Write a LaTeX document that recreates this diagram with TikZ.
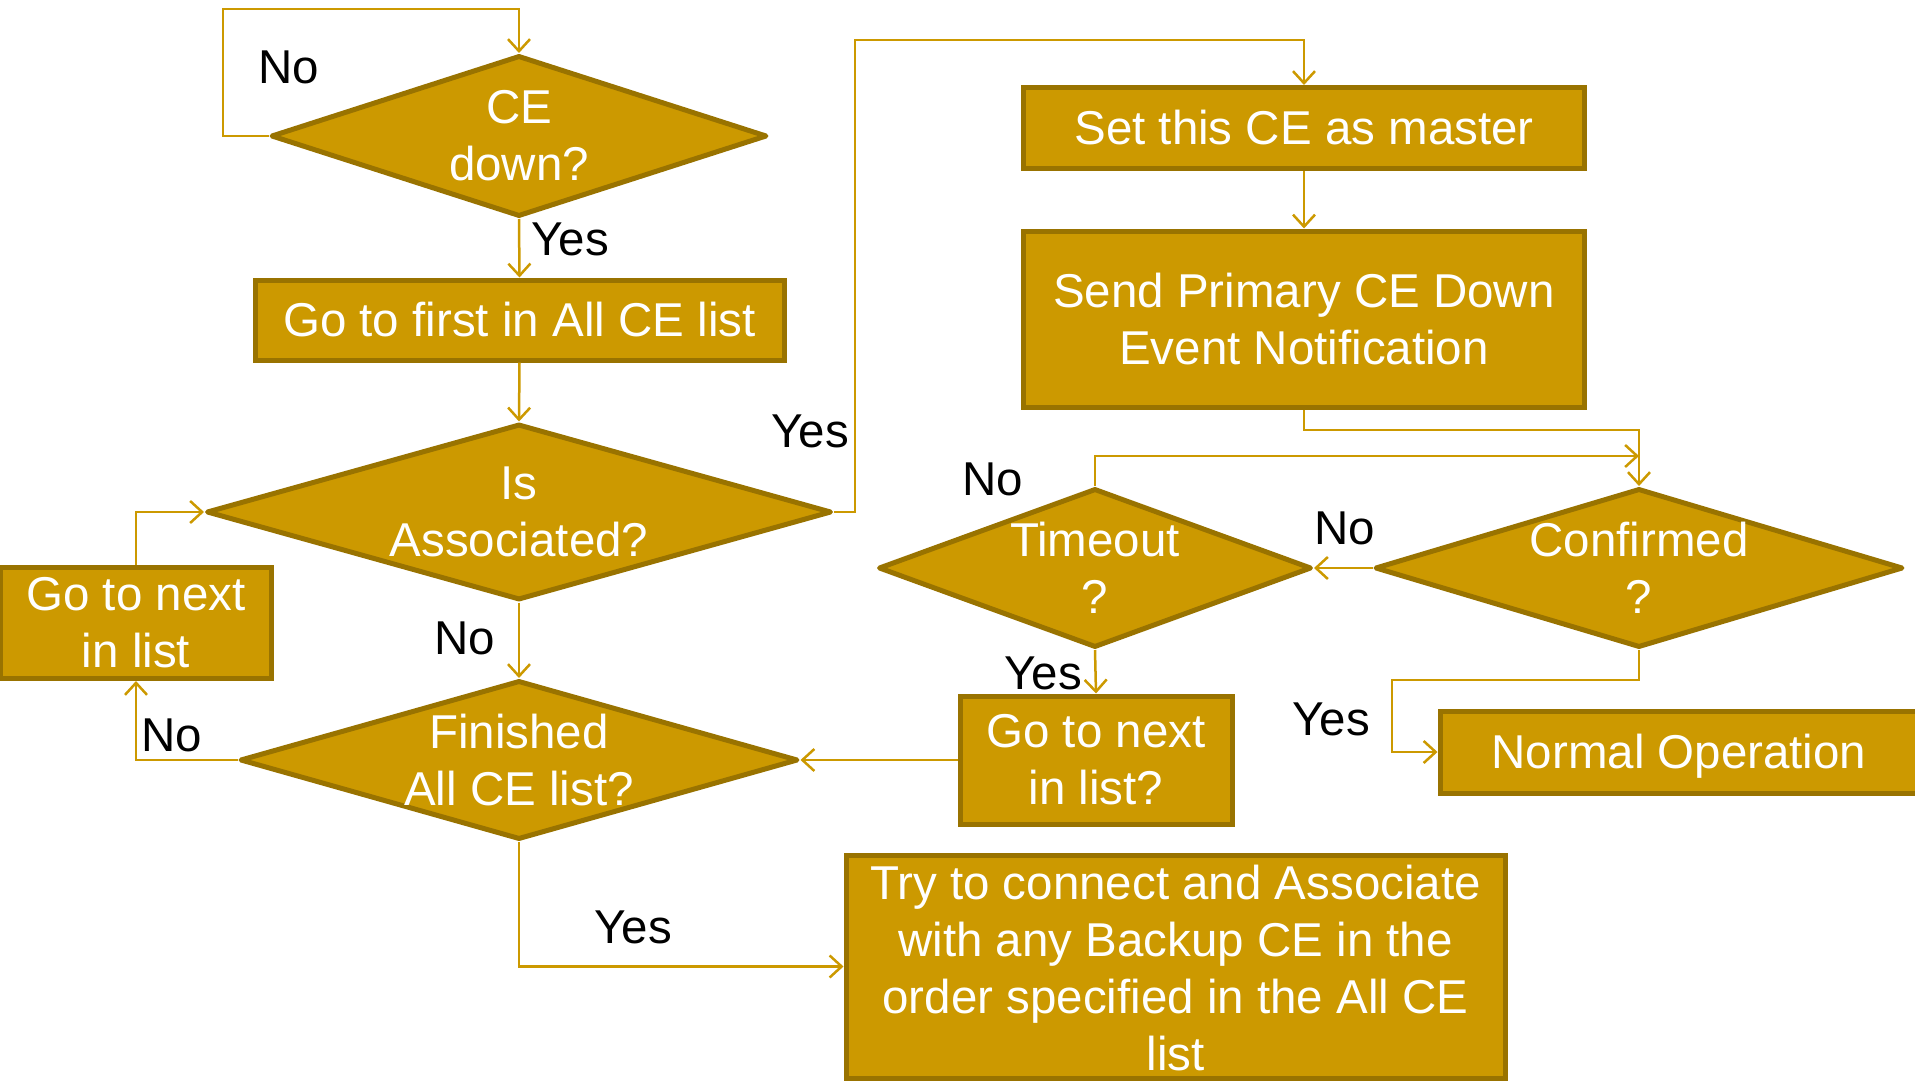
\documentclass[tikz,border=0pt]{standalone}
\usepackage{fontspec}
\setmainfont{Liberation Sans}
\usetikzlibrary{shapes.geometric,arrows.meta}
\definecolor{gold}{HTML}{CC9900}
\definecolor{golddark}{HTML}{997300}
\begin{document}
\begin{tikzpicture}[x=1pt,y=-1pt,
  font=\fontsize{47.5}{57}\selectfont,
  box/.style={draw=golddark,fill=gold,line width=5pt,text=white,align=center,inner sep=0pt},
  dia/.style={diamond,draw=golddark,fill=gold,line width=5pt,inner sep=0pt,line join=round},
  dtxt/.style={text=white,align=center,inner sep=0pt},
  arr/.style={draw=gold,line width=2.5pt,-{Straight Barb[length=12pt,width=22pt,line width=2.5pt]}},
  lbl/.style={text=black,inner sep=0pt}]
\useasboundingbox (0,0) rectangle (1915,1081);
% diamonds
\node[dia,minimum width=496pt,minimum height=161pt,label={[dtxt]center:CE\\down?}] (ce) at (519,136) {};
\node[dia,minimum width=625pt,minimum height=176pt,label={[dtxt]center:Is\\Associated?}] (assoc) at (519,512) {};
\node[dia,minimum width=558pt,minimum height=159pt,label={[dtxt]center:Finished\\All CE list?}] (fin) at (519,760) {};
\node[dia,minimum width=433pt,minimum height=159pt,label={[dtxt]center:Timeout\\?}] (tmo) at (1095,568) {};
\node[dia,minimum width=528pt,minimum height=159pt,label={[dtxt]center:Confirmed\\?}] (conf) at (1639,568) {};
% boxes
\node[box,minimum width=529pt,minimum height=80pt] (first) at (519.5,320) {Go to first in All CE list};
\node[box,minimum width=271pt,minimum height=111pt] (nextl) at (136,623) {Go to next\\in list};
\node[box,minimum width=561pt,minimum height=81pt] (master) at (1304,128) {Set this CE as master};
\node[box,minimum width=561pt,minimum height=176pt] (send) at (1304,319) {Send Primary CE Down\\Event Notification};
\node[box,minimum width=272pt,minimum height=128pt] (nextq) at (1096,760) {Go to next\\in list?};
\node[box,minimum width=478pt,minimum height=82pt,label={[dtxt,yshift=-4pt]center:Normal Operation}] (normal) at (1679,752) {};
\node[box,minimum width=659pt,minimum height=223pt,label={[dtxt,yshift=-2pt]center:Try to connect and Associate\\with any Backup CE in the\\order specified in the All CE\\list}] (try) at (1175.5,966.5) {};
% helper coordinates
\coordinate (c1) at (223,9);
\coordinate (c2) at (855,40);
\coordinate (c3) at (1639,430);
\coordinate (c4) at (1639,456);
\coordinate (c5) at (1392,680);
% connectors
\draw[arr] (ce.west) -| (c1) -| (ce.north);
\draw[arr] (ce.south) -- (first.north);
\draw[arr] (first.south) -- (assoc.north);
\draw[arr] (assoc.east) -| (c2) -| (master.north);
\draw[arr] (master.south) -- (send.north);
\draw[arr] (send.south) |- (c3) -- (conf.north);
\draw[arr] (conf.west) -- (tmo.east);
\draw[arr] (tmo.north) |- (c4);
\draw[arr] (tmo.south) -- (nextq.north);
\draw[arr] (nextq.west) -- (fin.east);
\draw[arr] (conf.south) |- (c5) |- (normal.west);
\draw[arr] (assoc.south) -- (fin.north);
\draw[arr] (fin.west) -| (nextl.south);
\draw[arr] (nextl.north) |- (assoc.west);
\draw[arr] (fin.south) |- (try.west);
% labels
\node[lbl] (l1) at (289,67) {No};
\node[lbl] (l2) at (570,239) {Yes};
\node[lbl] (l3) at (810,431) {Yes};
\node[lbl] (l4) at (465,638) {No};
\node[lbl] (l5) at (172,735) {No};
\node[lbl] (l6) at (633,927) {Yes};
\node[lbl] (l7) at (993,479) {No};
\node[lbl] (l8) at (1345,528) {No};
\node[lbl] (l9) at (1043,673) {Yes};
\node[lbl] (l10) at (1331,719) {Yes};
\end{tikzpicture}
\end{document}
